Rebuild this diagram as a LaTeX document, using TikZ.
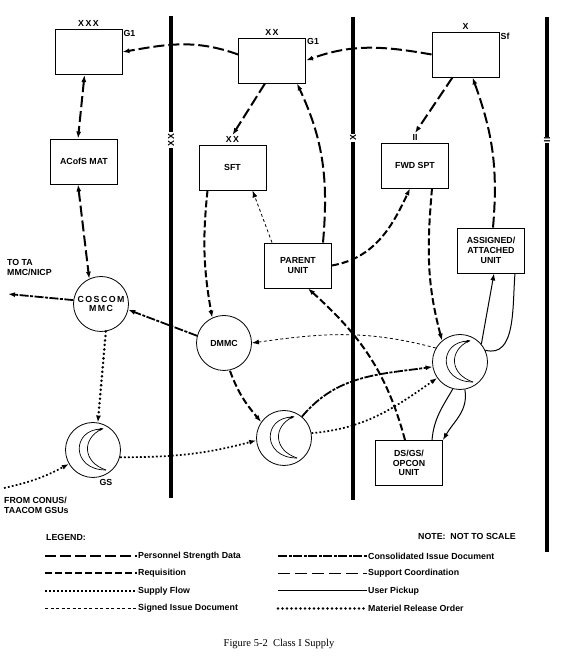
\documentclass[tikz,border=0pt]{standalone}
\usepackage{fontspec}
\setmainfont{Liberation Sans}
\newfontfamily\capfont{Liberation Serif}
\usetikzlibrary{arrows.meta,positioning}

\tikzset{
  moon/.pic={
    \draw[line width=0.7pt] (9,21) .. controls (-22,21) and (-22,-20) .. (13,-20);
    \draw[line width=0.7pt] (9,21) .. controls (-11,12) and (-11,-12) .. (13,-20);
    \draw[line width=0.7pt,-{Latex[length=4pt,width=3pt]}] (4,20) -- (11,21.5);
  }
}

\begin{document}
\begin{tikzpicture}[x=1pt, y=1pt, font=\fontsize{8.8}{9.8}\selectfont\bfseries,
  >={Latex[length=7pt,width=5pt]},
  box/.style={draw, line width=0.9pt, minimum width=67pt, minimum height=45pt, align=center, inner sep=1pt},
  unit/.style={draw, circle, line width=0.8pt, minimum size=55pt, inner sep=0pt, align=center},
  ech/.style={inner sep=1pt},
  bound/.style={line width=3.5pt},
  psd/.style={line width=2pt, dash pattern=on 11pt off 4pt},
  req/.style={line width=2pt, dash pattern=on 7pt off 3pt},
  sflow/.style={line width=1.7pt, dash pattern=on 1.8pt off 2.2pt},
  sid/.style={line width=0.8pt, dash pattern=on 3pt off 2.5pt},
  cid/.style={line width=1.8pt, dash pattern=on 9pt off 1.5pt on 3pt off 1.5pt},
  scoord/.style={line width=1pt, dash pattern=on 12pt off 5pt},
  pickup/.style={line width=1pt},
  mro/.style={line width=2.8pt, line cap=round, dash pattern=on 0pt off 4.5pt},
]
\useasboundingbox (0,0) rectangle (572,658);

% echelon boundaries
\draw[bound] (171,642) -- (171,160);
\node[fill=white, rotate=90, ech] (xxb) at (171,518) {X\,X};
\draw[bound] (353,641) -- (353,158);
\node[fill=white, rotate=90, ech] (xb) at (353,520) {X};
\draw[bound] (547,641) -- (547,106);
\node[fill=white, rotate=90, ech] (iib) at (547,518) {II};

% staff boxes
\node[box] (xxxg) at (88.5,606) {};
\node[ech, above=1pt of xxxg] (xxxgx) {X\,X\,X};
\node[ech, anchor=north west] (xxxgg) at (xxxg.north east) {G1};
\node[box] (acofs) at (84,496.5) {ACofS MAT};
\node[box] (xxg) at (272,597.5) {};
\node[ech, above=1pt of xxg] (xxgx) {X\,X};
\node[ech, anchor=north west] (xxgg) at (xxg.north east) {G1};
\node[box] (sft) at (232.5,490.5) {SFT};
\node[ech, above=1pt of sft] (sftx) {X\,X};
\node[box] (sf) at (465.5,603.5) {};
\node[ech, above=1pt of sf] (sfx) {X};
\node[ech, anchor=north west] (sfs) at (sf.north east) {Sf};
\node[box] (fwd) at (415,492.5) {FWD SPT};
\node[ech, above=1pt of fwd] (fwdx) {II};
\node[box] (parent) at (298,392.5) {PARENT\\UNIT};
\node[box] (assigned) at (491,407.5) {ASSIGNED/\\ATTACHED\\UNIT};
\node[box] (dsgs) at (409,195) {DS/GS/\\OPCON\\UNIT};

% supply activities
\node[unit] (coscom) at (101,354) {C\,O\,S\,C\,O\,M\\M\,M\,C};
\node[unit] (dmmc) at (224,315) {DMMC};
\node[unit] (gs) at (93,208) {};
\pic at (gs) {moon};
\node[ech, below=0pt of gs.south, xshift=13pt] (gslbl) {GS};
\node[unit] (midc) at (284,220) {};
\pic at (midc) {moon};
\node[unit] (rtc) at (460,296) {};
\pic at (rtc) {moon};

% outside ends
\node[ech, anchor=west, align=left] (tota) at (6,390.5) {TO TA\\MMC/NICP};
\coordinate (taend) at (8,364);
\node[ech, anchor=west, align=left] (conus) at (3,153) {FROM CONUS/\\TAACOM GSUs};
\coordinate (conusend) at (4,170);

% flows
\draw[psd,->] (xxg.170) to[out=160,in=10] (xxxg.east);
\draw[psd,->] (sf.west) to[out=170,in=20] (xxg.east);
\draw[psd,<->] ([xshift=-4pt]xxxg.south) -- ([xshift=-6pt]acofs.north);
\draw[psd,<->] ([xshift=-6pt]acofs.south) -- (coscom.115);
\draw[cid,->] (coscom.172) -- (taend);
\draw[cid,->] (dmmc.165) -- (coscom.-12);
\draw[psd,->] ([xshift=-7pt]xxg.south) -- (sftx.north);
\draw[psd,->] ([xshift=25pt]parent.north) to[out=85,in=-65] ([xshift=25pt]xxg.south);
\draw[sid,->] ([xshift=-26pt]parent.north) -- ([xshift=20pt]sft.south);
\draw[req,->] ([xshift=-25pt]sft.south) to[bend right=8] (dmmc.115);
\draw[req,->] (parent.east) to[out=10,in=-115] ([xshift=-5pt]fwd.south);
\draw[psd,->] ([xshift=-13pt]sf.south) -- (fwdx.north);
\draw[psd,->] ([xshift=2pt]assigned.north) to[out=85,in=-70] ([xshift=7pt]sf.south);
\draw[req,->] ([xshift=17pt]fwd.south) to[out=-95,in=105] (rtc.130);
\draw[pickup,->] (rtc.40) to[out=80,in=-100] ([xshift=3pt]assigned.south);
\draw[pickup] ([xshift=24pt]assigned.south) to[out=-95,in=-15] (rtc.25);
\draw[pickup] ([xshift=23pt]dsgs.north) to[out=85,in=-120] (rtc.-105);
\draw[pickup,->] (rtc.-80) to[out=-80,in=60] (dsgs.north east);
\draw[sid,->] (rtc.150) to[out=165,in=8] (dmmc.east);
\draw[req,->] ([xshift=-4pt]dsgs.north) to[out=105,in=-42] ([xshift=10pt]parent.south);
\draw[req,->] ([xshift=6pt]dmmc.south) to[out=-70,in=130] (midc.145);
\draw[cid,->] (midc.50) to[out=50,in=188] (rtc.190);
\draw[sflow,->] (midc.10) to[out=5,in=215] (rtc.215);
\draw[sflow,->] (gs.-15) to[out=0,in=195] (midc.185);
\draw[mro,->] (coscom.-80) -- (gs.80);
\draw[sflow,->] (conusend) to[bend right=8] (gs.210);

% legend
\node[ech, anchor=west] (legend) at (45,121) {LEGEND:};
\node[ech, anchor=west] (note) at (417,122) {NOTE:\ \ NOT TO SCALE};
\foreach \sty/\txt [count=\i] in {psd/Personnel Strength Data, req/Requisition, sflow/Supply Flow, sid/Signed Issue Document}{
  \node[ech, anchor=west] (lgl\i) at (137,119.5-17.5*\i) {\txt};
  \draw[style=\sty] (45,119.5-17.5*\i) -- (lgl\i.west);
}
\foreach \sty/\txt [count=\i] in {cid/Consolidated Issue Document, scoord/Support Coordination, pickup/User Pickup, mro/Materiel Release Order}{
  \node[ech, anchor=west] (lgr\i) at (367,119.5-17.5*\i) {\txt};
  \draw[style=\sty] (278,119.5-17.5*\i) -- (lgr\i.west);
}

\node[font=\capfont\fontsize{10.5}{12}\selectfont] (cap) at (279,14) {Figure 5-2\ \ Class I Supply};
\end{tikzpicture}
\end{document}
